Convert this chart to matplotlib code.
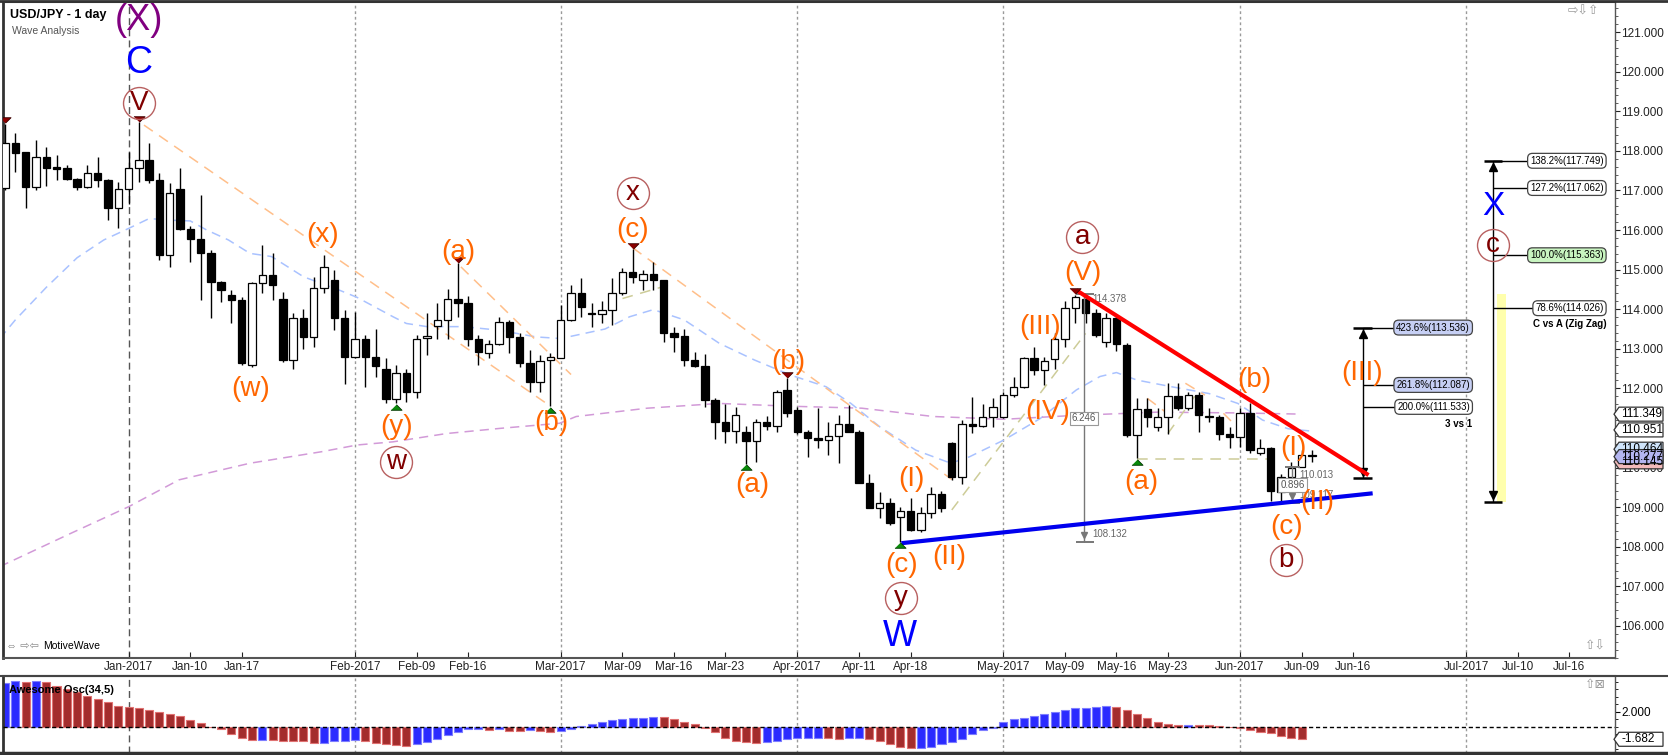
#!/usr/bin/env python3
"""USD/JPY daily wave analysis chart (MotiveWave style) with Awesome Oscillator."""

import matplotlib

matplotlib.use("Agg")
import matplotlib.pyplot as plt
from matplotlib.lines import Line2D
from matplotlib.patches import Polygon
from matplotlib.ticker import MultipleLocator

plt.rcParams["font.family"] = ["Liberation Sans", "DejaVu Sans"]

W, H = 1668, 755

# ---- candles: x = trading-day index, 0 = Jan 2 2017 (first bar is index -12)
FIRST_IDX = -12
OPEN = [
    117.05, 118.19, 117.98, 117.09, 117.85, 117.58, 117.56, 117.29, 117.09, 117.43,
    117.26, 116.55, 117.03, 117.57, 117.77, 117.26, 115.37, 117.03, 116.03, 115.78,
    115.41, 114.70, 114.36, 114.23, 112.60, 114.67, 114.86, 114.27, 112.72, 113.79,
    113.29, 114.53, 114.74, 113.77, 112.80, 113.24, 112.80, 112.48, 111.74, 112.40,
    111.92, 113.28, 113.58, 113.74, 114.27, 114.16, 113.24, 112.90, 113.11, 113.67,
    113.31, 112.63, 112.17, 112.72, 112.78, 113.73, 114.40, 113.90, 113.88, 113.98,
    114.40, 114.95, 114.75, 114.88, 114.75, 113.40, 113.32, 112.72, 112.57, 111.71,
    111.16, 110.93, 110.89, 110.67, 111.14, 111.05, 111.96, 111.45, 110.91, 110.74,
    110.70, 110.80, 111.10, 110.91, 109.62, 108.99, 109.10, 108.74, 108.90, 108.42,
    108.84, 109.32, 110.63, 109.77, 111.10, 111.06, 111.27, 111.29, 111.83, 112.03,
    112.76, 112.46, 112.75, 113.24, 114.02, 114.27, 113.90, 113.18, 113.79, 113.10,
    110.82, 111.47, 111.03, 111.29, 111.81, 111.50, 111.83, 111.27, 111.27, 110.85,
    110.78, 111.39, 110.36, 110.49, 109.39, 109.77, 110.02, 110.30,
]
HIGH = [
    118.68, 118.44, 117.98, 118.27, 118.10, 117.90, 117.64, 117.32, 117.64, 117.85,
    117.30, 117.22, 117.98, 118.72, 118.20, 117.43, 117.20, 117.56, 116.10, 116.88,
    115.50, 114.72, 114.48, 114.30, 114.70, 115.62, 115.41, 114.44, 113.90, 114.00,
    114.82, 115.37, 115.00, 113.98, 113.94, 113.35, 113.50, 112.78, 112.59, 112.50,
    113.35, 113.90, 114.16, 114.50, 115.16, 114.33, 113.35, 113.22, 113.80, 113.74,
    113.39, 112.97, 112.84, 112.90, 114.10, 114.61, 114.78, 114.15, 114.20, 114.78,
    115.03, 115.51, 114.99, 115.20, 114.75, 113.56, 113.50, 112.93, 112.88, 111.75,
    111.60, 111.54, 111.06, 111.22, 111.31, 111.96, 112.25, 111.54, 110.95, 111.50,
    111.16, 111.33, 111.58, 110.95, 109.85, 109.39, 109.22, 109.01, 109.22, 109.01,
    109.50, 109.42, 110.65, 111.20, 111.79, 111.60, 111.75, 111.90, 112.30, 112.80,
    113.05, 112.80, 113.40, 114.20, 114.37, 114.37, 114.00, 113.90, 113.85, 113.14,
    111.75, 111.75, 111.50, 112.13, 112.13, 111.90, 111.90, 111.50, 111.33, 111.03,
    111.50, 111.62, 110.71, 110.53, 109.85, 110.15, 110.44, 110.44,
]
LOW = [
    117.00, 117.47, 116.55, 117.00, 117.10, 117.26, 117.26, 117.00, 117.05, 117.09,
    116.25, 116.04, 116.67, 117.22, 117.20, 115.24, 115.07, 116.00, 115.20, 114.23,
    113.77, 114.19, 113.64, 112.60, 112.55, 114.40, 114.23, 112.67, 112.50, 113.00,
    113.05, 114.40, 113.47, 112.10, 112.76, 112.04, 112.30, 111.64, 111.62, 111.66,
    111.75, 112.84, 113.24, 113.24, 113.80, 113.07, 112.59, 112.76, 113.10, 112.90,
    112.55, 111.92, 111.92, 111.55, 112.76, 113.70, 113.81, 113.56, 113.64, 113.60,
    114.35, 114.65, 114.48, 114.48, 113.18, 112.93, 112.57, 112.53, 111.54, 110.71,
    110.63, 110.61, 110.10, 110.15, 110.95, 110.90, 111.27, 110.86, 110.27, 110.49,
    110.32, 110.11, 110.90, 109.60, 108.97, 108.72, 108.55, 108.13, 108.40, 108.38,
    108.72, 108.89, 109.69, 109.58, 110.87, 111.03, 111.03, 111.24, 111.79, 112.00,
    112.34, 112.09, 112.50, 113.05, 113.64, 113.64, 113.30, 113.05, 112.95, 110.78,
    110.23, 111.03, 110.93, 110.86, 111.45, 111.45, 110.90, 111.16, 110.70, 110.49,
    110.53, 110.36, 110.32, 109.15, 109.14, 109.35, 110.02, 110.15,
]
CLOSE = [
    118.19, 117.94, 117.09, 117.85, 117.56, 117.55, 117.29, 117.09, 117.43, 117.26,
    116.55, 117.03, 117.57, 117.77, 117.26, 115.37, 116.94, 116.02, 115.78, 115.41,
    114.70, 114.48, 114.23, 112.63, 114.67, 114.86, 114.61, 112.72, 113.77, 113.29,
    114.53, 115.07, 113.77, 112.80, 113.24, 112.80, 112.57, 111.74, 112.40, 111.92,
    113.24, 113.32, 113.74, 114.27, 114.16, 113.24, 112.93, 113.11, 113.67, 113.31,
    112.63, 112.17, 112.70, 112.80, 113.73, 114.40, 114.06, 113.88, 113.98, 114.40,
    114.95, 114.81, 114.88, 114.75, 113.39, 113.30, 112.72, 112.57, 111.71, 111.16,
    110.93, 111.33, 110.67, 111.14, 111.05, 111.90, 111.39, 110.91, 110.74, 110.70,
    110.80, 111.10, 110.91, 109.62, 108.99, 109.10, 108.59, 108.90, 108.42, 108.84,
    109.32, 108.99, 109.77, 111.10, 111.06, 111.27, 111.54, 111.83, 112.03, 112.76,
    112.46, 112.69, 113.24, 114.02, 114.32, 113.90, 113.35, 113.79, 113.12, 110.82,
    111.47, 111.27, 111.29, 111.81, 111.50, 111.83, 111.33, 111.30, 110.85, 110.78,
    111.39, 110.44, 110.49, 109.42, 109.77, 110.00, 110.32, 110.28,
]

DATE_TICKS = [0, 6, 11, 22, 28, 33, 42, 48, 53, 58, 65, 71, 76, 85, 91, 96, 101,
              108, 114, 119, 130, 135, 140]
DATE_LABELS = ["Jan-2017", "Jan-10", "Jan-17", "Feb-2017", "Feb-09", "Feb-16",
               "Mar-2017", "Mar-09", "Mar-16", "Mar-23", "Apr-2017", "Apr-11",
               "Apr-18", "May-2017", "May-09", "May-16", "May-23", "Jun-2017",
               "Jun-09", "Jun-16", "Jul-2017", "Jul-10", "Jul-16"]
MONTH_LINES = [0, 22, 42, 65, 85, 108, 130]

# ---- Awesome oscillator (index -12 .. 114); B = rising bar, R = falling bar
OSC_VALUES = [
    5.78, 6.09, 5.92, 6.09, 5.92, 5.47, 4.98, 4.67, 4.09, 3.69,
    3.33, 2.80, 2.58, 2.45, 2.22, 1.92, 1.69, 1.42, 0.89, 0.45,
    -0.05, -0.36, -1.02, -1.47, -1.78, -1.76, -1.78, -1.87, -1.87, -1.90,
    -2.13, -2.11, -1.87, -1.85, -1.78, -1.87, -2.13, -2.36, -2.38, -2.53,
    -2.31, -2.00, -1.69, -1.10, -0.67, -0.36, -0.33, -0.38, -0.36, -0.53,
    -0.55, -0.50, -0.52, -0.72, -0.62, -0.36, 0.05, 0.31, 0.67, 0.84,
    1.00, 1.11, 1.20, 1.33, 1.30, 1.02, 0.67, 0.31, -0.22, -0.76,
    -1.47, -1.87, -2.09, -2.11, -2.00, -1.87, -1.69, -1.56, -1.47, -1.45,
    -1.56, -1.64, -1.56, -1.54, -1.69, -1.87, -2.36, -2.76, -2.89, -2.80,
    -2.67, -2.36, -2.00, -1.64, -1.02, -0.44, -0.13, 0.58, 1.00, 1.20,
    1.47, 1.73, 2.00, 2.18, 2.44, 2.53, 2.67, 2.82, 2.58, 2.22,
    1.64, 1.20, 0.67, 0.31, 0.22, 0.27, 0.24, 0.22, 0.13, -0.09,
    -0.22, -0.44, -0.67, -0.89, -1.20, -1.47, -1.68,
]
OSC_DIR = ("BBRBRRRRRR" "RRRRRRRRRR" "RRRRRBRRRR" "RBBBBRRRRR" "BBBBBBBRBR"
           "RBRRBBBBBB" "BBBBRRRRRR" "RRRRBBBBBB" "RRBBRRRRRB" "BBBBBBBBBB"
           "BBBBBBBBRR" "RRRRRBRRRR" "RRRRRRR")

# ---- moving averages
BLUE_MA_X = [-12.5, -11, -8, -5, -2.4, 0, 2, 4, 6, 7.6, 9.7, 11.8, 13.9, 17, 20.5,
             22.2, 25.7, 27, 29, 32.5, 36, 39.6, 42, 46.3, 48.7, 51, 54, 57.4, 60.8,
             64.3, 67.8, 70.2, 73, 76.5, 79.9, 81.7, 85.1, 88.6, 92.1, 94.4, 96, 98,
             101.4, 105, 107.8, 110.2, 112.7, 115]
BLUE_MA_Y = [113.26, 113.73, 114.55, 115.3, 115.75, 116.04, 116.29, 116.25, 116.23,
             116.0, 115.75, 115.41, 115.33, 114.82, 114.48, 114.3, 113.81, 113.64,
             113.56, 113.56, 113.47, 113.3, 113.26, 113.5, 113.81, 113.99, 113.73,
             113.14, 112.72, 112.34, 112.04, 111.62, 111.03, 110.44, 110.11, 110.27,
             110.7, 111.24, 111.96, 112.3, 112.4, 112.21, 112.04, 111.87, 111.62,
             111.2, 110.98, 110.92]
PURPLE_MA_X = [-12.5, -5.6, 0, 4.9, 11.8, 18.75, 22.2, 25.7, 30.9, 36.1, 41.9, 43.5,
               50.4, 57.4, 64.3, 71.25, 78.2, 85.1, 92.1, 100, 108, 114]
PURPLE_MA_Y = [107.5, 108.34, 109.01, 109.69, 110.11, 110.4, 110.57, 110.65, 110.86,
               110.99, 111.12, 111.29, 111.5, 111.62, 111.55, 111.5, 111.29, 111.22,
               111.32, 111.4, 111.38, 111.35]

# ---- swing markers
PEAK_IDX = [-12, 1, 32, 49, 64, 92]
TROUGH_IDX = [26, 41, 60, 75, 98]

# ---- wave labels (text, x index, price)
ORANGE_LABELS = [
    ("(x)", 18.9, 115.87), ("(a)", 32.0, 115.45), ("(w)", 11.9, 111.98),
    ("(y)", 26.0, 111.03), ("(b)", 41.1, 111.12), ("(c)", 49.0, 115.99),
    ("(V)", 92.7, 114.91), ("(b)", 64.1, 112.67), ("(a)", 60.6, 109.56),
    ("(I)", 76.1, 109.70), ("(c)", 75.1, 107.54), ("(II)", 79.8, 107.75),
    ("(III)", 88.6, 113.56), ("(IV)", 89.3, 111.41), ("(b)", 109.4, 112.21),
    ("(a)", 98.45, 109.64), ("(I)", 113.2, 110.49), ("(II)", 115.5, 109.14),
    ("(c)", 112.5, 108.51), ("(III)", 119.9, 112.38),
]
CIRCLE_LABELS = [
    ("V", 1.0, 119.21), ("x", 49.0, 116.94), ("w", 26.0, 110.15), ("a", 92.7, 115.82),
    ("y", 75.1, 106.70), ("b", 112.5, 107.67), ("c", 132.6, 115.62),
]
BIG_LABELS = [
    ("(X)", 1.0, 121.30, "#800080", 26), ("C", 1.0, 120.21, "#0000ff", 27),
    ("W", 75.0, 105.73, "#0000ff", 26), ("X", 132.6, 116.59, "#0000ff", 24),
]

# ---- drawn trend / channel lines ((x0, y0), (x1, y1))
RED_TREND = ((92.1, 114.48), (120.5, 109.81))
BLUE_TREND = ((75.1, 108.09), (120.9, 109.35))
ORANGE_DASHED = [((1.5, 118.65), (41.0, 111.55)), ((32.3, 115.07), (43.0, 112.35)),
                 ((49.0, 115.55), (80.0, 109.70)), ((99.0, 111.75), (101.4, 111.28)),
                 ((102.7, 112.13), (104.6, 111.83)), ((106.4, 111.37), (108.5, 110.82))]
OLIVE_DASHED = [((48.0, 114.27), (53.0, 114.65)), ((80.0, 108.93), (93.0, 113.39)),
                ((98.0, 110.22), (111.3, 110.22)), ((101.0, 110.86), (103.6, 111.80))]

# ---- fibonacci projections
FIB1_X, FIB1_LOW, FIB1_TEXT_RIGHT = 119.93, 109.73, 130.36
FIB1_LEVELS = [("423.6%", 113.536, "#c6cff4"), ("261.8%", 112.087, "#c6cff4"),
               ("200.0%", 111.533, "white")]
FIB2_X, FIB2_LOW, FIB2_TEXT_RIGHT = 132.6, 109.14, 143.35
FIB2_LEVELS = [("138.2%", 117.749, "white"), ("127.2%", 117.062, "white"),
               ("100.0%", 115.363, "#c8f4c0"), ("78.6%", 114.026, "white")]
ZONE_X = (133.0, 133.87)
ZONE_Y = (109.14, 114.38)

# ---- price tags on the right scale
PRICE_TAGS = [("111.349", 111.349, "white"), ("110.951", 110.951, "white"),
              ("110.464", 110.464, "#cfe4fb"), ("110.145", 110.145, "#f3baba"),
              ("110.277", 110.277, "#b4b6f0")]

# ---- layout (pixels)
PRICE_L, PRICE_T, PRICE_R, PRICE_B = 3, 2, 1615, 658
OSC_T, OSC_B = 676, 753
X_MIN, X_MAX = -12.2, 144.45
P_MIN, P_MAX = 105.19, 121.76
O_MIN, O_MAX = -3.51, 6.76


def frac(px, py):
    return px / W, 1 - py / H


def price_py(p):
    return PRICE_T + (P_MAX - p) / (P_MAX - P_MIN) * (PRICE_B - PRICE_T)


def osc_py(v):
    return OSC_T + (O_MAX - v) / (O_MAX - O_MIN) * (OSC_B - OSC_T)


def tag(fig, py, text, fc):
    x0, x1, h = 1614, 1663, 7
    verts = [(x0, py), (x0 + 5, py - h), (x1, py - h), (x1, py + h), (x0 + 5, py + h)]
    fig.add_artist(Polygon([frac(x, y) for x, y in verts], closed=True,
                           transform=fig.transFigure, fc=fc, ec="#333333", lw=0.9,
                           zorder=10))
    fig.text(*frac(1621, py), text, fontsize=8.5, ha="left", va="center", zorder=11)


def main() -> None:
    fig = plt.figure(figsize=(W / 100, H / 100), dpi=100)
    ax = fig.add_axes([PRICE_L / W, 1 - PRICE_B / H, (PRICE_R - PRICE_L) / W,
                       (PRICE_B - PRICE_T) / H])
    axo = fig.add_axes([PRICE_L / W, 1 - OSC_B / H, (PRICE_R - PRICE_L) / W,
                        (OSC_B - OSC_T) / H])

    xs = list(range(FIRST_IDX, FIRST_IDX + len(OPEN)))

    # month grid
    for a in (ax, axo):
        for m in MONTH_LINES:
            if m == 0:
                a.axvline(m, color="#555555", lw=1, ls=(0, (5, 3)), zorder=0)
            else:
                a.axvline(m, color="#9a9a9a", lw=1, ls=(0, (2, 2)), zorder=0)

    # moving averages
    ax.plot(BLUE_MA_X, BLUE_MA_Y, color="#a9c2ff", lw=1.1, ls=(0, (6, 4)), zorder=1)
    ax.plot(PURPLE_MA_X, PURPLE_MA_Y, color="#d29ad8", lw=1.1, ls=(0, (6, 4)), zorder=1)

    for (x0, y0), (x1, y1) in ORANGE_DASHED:
        ax.plot([x0, x1], [y0, y1], color="#ffbf8a", lw=1.1, ls=(0, (7, 5)), zorder=1)
    for (x0, y0), (x1, y1) in OLIVE_DASHED:
        ax.plot([x0, x1], [y0, y1], color="#cdcc98", lw=1.1, ls=(0, (7, 5)), zorder=1)

    # candles
    ax.vlines(xs, LOW, HIGH, color="black", lw=1.0, zorder=3)
    for x, o, c in zip(xs, OPEN, CLOSE):
        bottom = min(o, c)
        height = max(abs(c - o), 0.025)
        face = "white" if c >= o else "black"
        ax.bar(x, height, bottom=bottom, width=0.72, color=face, edgecolor="black",
               lw=0.9, zorder=4)

    # swing markers
    tri_down = [(-1, 0.5), (1, 0.5), (0, -0.5)]
    tri_up = [(-1, -0.5), (1, -0.5), (0, 0.5)]
    ax.plot(PEAK_IDX, [HIGH[i - FIRST_IDX] + 0.09 for i in PEAK_IDX], ls="none",
            marker=tri_down, ms=8, mfc="#8b0000", mec="#3a0000", mew=0.6, zorder=7)
    ax.plot(TROUGH_IDX, [LOW[i - FIRST_IDX] - 0.09 for i in TROUGH_IDX], ls="none",
            marker=tri_up, ms=8, mfc="#0a8a0a", mec="#003300", mew=0.6, zorder=7)

    # trend lines
    (x0, y0), (x1, y1) = RED_TREND
    ax.plot([x0, x1], [y0, y1], color="#ff0000", lw=3, solid_capstyle="butt", zorder=6)
    (x0, y0), (x1, y1) = BLUE_TREND
    ax.plot([x0, x1], [y0, y1], color="#0000ee", lw=3, solid_capstyle="butt", zorder=6)

    # measuring tools
    grey = "#777777"
    ax.vlines(92.85, 108.132, 114.378, color=grey, lw=1, zorder=5)
    ax.hlines([114.378, 108.132], 92.1, 93.8, color=grey, lw=1.4, zorder=5)
    ax.plot(92.85, 108.30, marker="v", ms=5, color=grey, zorder=5)
    ax.text(93.7, 114.25, "114.378", fontsize=7, color="#666666", va="center", zorder=5)
    ax.text(93.7, 108.32, "108.132", fontsize=7, color="#666666", va="center", zorder=5)
    ax.text(92.85, 111.24, "6.246", fontsize=7, color="#555555", ha="center",
            va="center", zorder=6,
            bbox=dict(boxstyle="square,pad=0.2", fc="white", ec="#999999", lw=0.8))
    ax.vlines(113.1, 109.117, 110.013, color=grey, lw=1, zorder=5)
    ax.hlines([110.013, 109.117], 112.4, 113.8, color=grey, lw=1.4, zorder=5)
    ax.plot(113.1, 109.27, marker="v", ms=5, color=grey, zorder=5)
    ax.text(113.8, 109.82, "110.013", fontsize=7, color="#666666", va="center", zorder=5)
    ax.text(113.8, 109.30, "109.117", fontsize=7, color="#666666", va="center", zorder=5)
    ax.text(113.1, 109.56, "0.896", fontsize=7, color="#555555", ha="center",
            va="center", zorder=6,
            bbox=dict(boxstyle="square,pad=0.2", fc="white", ec="#999999", lw=0.8))

    # fibonacci projections
    top1 = FIB1_LEVELS[0][1]
    ax.vlines(FIB1_X, FIB1_LOW, top1, color="black", lw=1, zorder=5)
    ax.hlines([top1, FIB1_LOW], FIB1_X - 0.9, FIB1_X + 0.9, color="black", lw=1.8, zorder=5)
    ax.plot(FIB1_X, top1 - 0.16, marker="^", ms=5.5, color="black", zorder=5)
    ax.plot(FIB1_X, FIB1_LOW + 0.16, marker="v", ms=5.5, color="black", zorder=5)
    for pct, val, fc in FIB1_LEVELS:
        ax.hlines(val, FIB1_X, FIB1_TEXT_RIGHT - 3, color="black", lw=1, zorder=5)
        ax.text(FIB1_TEXT_RIGHT, val, f"{pct}({val:.3f})", fontsize=7, ha="right",
                va="center", zorder=7,
                bbox=dict(boxstyle="round,pad=0.25,rounding_size=0.5", fc=fc,
                          ec="#444444", lw=0.9))
    ax.text(130.6, 111.10, "3 vs 1", fontsize=7, fontweight="bold", ha="right",
            va="center", zorder=7)

    ax.fill_between(list(ZONE_X), ZONE_Y[0], ZONE_Y[1], color="#ffff99", alpha=0.8,
                    lw=0, zorder=1)
    top2 = FIB2_LEVELS[0][1]
    ax.vlines(FIB2_X, FIB2_LOW, top2, color="black", lw=1, zorder=5)
    ax.hlines([top2, FIB2_LOW], FIB2_X - 0.85, FIB2_X + 0.85, color="black", lw=1.8, zorder=5)
    ax.plot(FIB2_X, top2 - 0.16, marker="^", ms=5.5, color="black", zorder=5)
    ax.plot(FIB2_X, FIB2_LOW + 0.16, marker="v", ms=5.5, color="black", zorder=5)
    for pct, val, fc in FIB2_LEVELS:
        ax.hlines(val, FIB2_X, FIB2_TEXT_RIGHT - 3, color="black", lw=1, zorder=5)
        ax.text(FIB2_TEXT_RIGHT, val, f"{pct}({val:.3f})", fontsize=7, ha="right",
                va="center", zorder=7,
                bbox=dict(boxstyle="round,pad=0.25,rounding_size=0.5", fc=fc,
                          ec="#444444", lw=0.9))
    ax.text(143.6, 113.62, "C vs A (Zig Zag)", fontsize=7, fontweight="bold",
            ha="right", va="center", zorder=7)

    # wave labels
    for text, x, y in ORANGE_LABELS:
        ax.text(x, y, text, color="#ff6600", fontsize=20, ha="center", va="center",
                zorder=8)
    for text, x, y in CIRCLE_LABELS:
        ax.plot(x, y, marker="o", ms=23, mfc="none", mec="#b86060", mew=1, zorder=8)
        ax.text(x, y, text, color="#800000", fontsize=20, ha="center", va="center",
                zorder=9)
    for text, x, y, color, size in BIG_LABELS:
        ax.text(x, y, text, color=color, fontsize=size, ha="center", va="center",
                zorder=8)

    # price axis
    ax.set_xlim(X_MIN, X_MAX)
    ax.set_ylim(P_MIN, P_MAX)
    ax.yaxis.tick_right()
    ticks = list(range(106, 122))
    ax.set_yticks(ticks)
    ax.set_yticklabels([f"{t:.3f}" for t in ticks])
    ax.yaxis.set_minor_locator(MultipleLocator(0.2))
    ax.tick_params(axis="y", which="major", direction="out", length=3.5, pad=1,
                   labelsize=8.5, colors="#222222")
    ax.tick_params(axis="y", which="minor", direction="out", length=2, colors="#444444")
    ax.set_xticks(DATE_TICKS)
    ax.set_xticklabels(DATE_LABELS)
    ax.tick_params(axis="x", direction="in", length=4, pad=2.5, labelsize=8.5,
                   colors="#222222")
    for side, lw, col in (("top", 1.5, "#333333"), ("left", 2, "#333333"),
                          ("right", 1, "#555555"), ("bottom", 1.5, "#555555")):
        ax.spines[side].set_linewidth(lw)
        ax.spines[side].set_color(col)

    # awesome oscillator
    ox = list(range(FIRST_IDX, FIRST_IDX + len(OSC_VALUES)))
    for x, v, d in zip(ox, OSC_VALUES, OSC_DIR):
        fc, ec = ("#2b2bff", "#7d7dff") if d == "B" else ("#a32d2d", "#e07272")
        axo.bar(x, v, width=0.78, color=fc, edgecolor=ec, lw=0.8, zorder=2)
    axo.axhline(0, color="black", lw=1, ls=(0, (3, 2)), zorder=3)
    axo.set_xlim(X_MIN, X_MAX)
    axo.set_ylim(O_MIN, O_MAX)
    axo.set_xticks([])
    axo.yaxis.tick_right()
    axo.set_yticks([2.0])
    axo.set_yticklabels(["2.000"])
    axo.yaxis.set_minor_locator(MultipleLocator(1.0))
    axo.tick_params(axis="y", which="major", direction="out", length=3.5, pad=1,
                    labelsize=8.5)
    axo.tick_params(axis="y", which="minor", direction="out", length=2)
    for side, lw, col in (("top", 1.5, "#555555"), ("left", 2, "#333333"),
                          ("right", 1, "#555555"), ("bottom", 2, "#333333")):
        axo.spines[side].set_linewidth(lw)
        axo.spines[side].set_color(col)
    axo.text(0.0037, 0.82, "Awesome Osc(34,5)", transform=axo.transAxes, fontsize=8,
             fontweight="bold", va="center", zorder=5)

    # frame lines across the full width
    for py, col, lw in ((676, "#444444", 1.5), (753, "#333333", 2.5), (1, "#333333", 2)):
        x0, y0 = frac(0, py)
        x1, _ = frac(W, py)
        fig.add_artist(Line2D([x0, x1], [y0, y0], color=col, lw=lw, zorder=3))
    fig.add_artist(Line2D([frac(PRICE_L, 0)[0]] * 2, [frac(0, 656)[1]] * 2,
                          color="#bbbbbb", lw=1))

    # tags on the scales
    for text, val, fc in PRICE_TAGS:
        tag(fig, price_py(val), text, fc)
    tag(fig, osc_py(OSC_VALUES[-1]), "-1.682", "white")

    # header / footer texts
    fig.text(*frac(9.6, 15), "USD/JPY - 1 day", fontsize=9, fontweight="bold",
             va="center")
    fig.text(*frac(12, 31), "Wave Analysis", fontsize=7.5, color="#555555",
             va="center")
    fig.text(*frac(6, 646), "\u21d4 \u21e8\u21e6", fontsize=8, color="#8a8a8a",
             va="center")
    fig.text(*frac(43.6, 646), "MotiveWave", fontsize=7.5, va="center")
    fig.text(*frac(1568, 12), "\u21e8\u21e9\u21e7", fontsize=9, color="#999999",
             va="center")
    fig.text(*frac(1585, 647), "\u21e7\u21e9", fontsize=9, color="#999999", va="center")
    fig.text(*frac(1585, 685), "\u21e7\u22a0", fontsize=9, color="#999999", va="center")

    fig.savefig("out.png", dpi=100, facecolor="white")
    plt.close(fig)


if __name__ == "__main__":
    main()
